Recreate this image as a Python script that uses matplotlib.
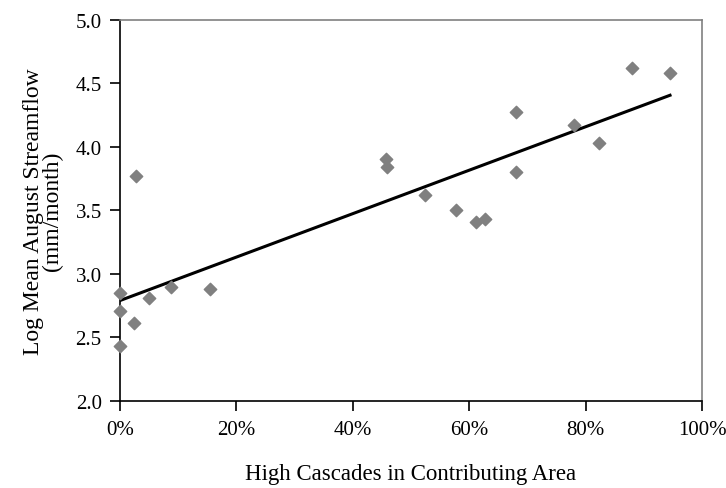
import numpy as np
import matplotlib

matplotlib.use("Agg")
import matplotlib.pyplot as plt
from matplotlib.ticker import PercentFormatter

plt.rcParams["font.family"] = ["Liberation Serif", "DejaVu Serif"]

# fraction of High Cascades in contributing area
high_cascades = [0.0, 0.0, 0.0, 0.025, 0.028, 0.05, 0.088, 0.155, 0.457, 0.459,
                 0.525, 0.578, 0.612, 0.628, 0.68, 0.68, 0.78, 0.823, 0.88, 0.945]
# log mean August streamflow (mm/month)
log_flow = [2.85, 2.71, 2.43, 2.61, 3.77, 2.81, 2.90, 2.88, 3.90, 3.84,
            3.62, 3.50, 3.41, 3.43, 4.27, 3.80, 4.17, 4.03, 4.62, 4.58]

x = np.array(high_cascades)
y = np.array(log_flow)
slope, intercept = np.polyfit(x, y, 1)
fit_x = np.array([x.min(), x.max()])

fig = plt.figure(figsize=(7.26, 4.89), dpi=100)
ax = fig.add_axes([0.165, 0.178, 0.802, 0.78])

ax.plot(fit_x, slope * fit_x + intercept, color="black", linewidth=2.2, zorder=2)
ax.scatter(x, y, marker="D", s=40, color="#808080", zorder=3, clip_on=False)

ax.set_xlim(0, 1)
ax.set_ylim(2.0, 5.0)
ax.set_xticks(np.arange(0, 1.01, 0.2))
ax.set_yticks(np.arange(2.0, 5.01, 0.5))
ax.xaxis.set_major_formatter(PercentFormatter(1.0, decimals=0))
ax.yaxis.set_major_formatter(plt.FormatStrFormatter("%.1f"))

for side in ["top", "right"]:
    ax.spines[side].set_color("#808080")
    ax.spines[side].set_linewidth(1.2)
for side in ["left", "bottom"]:
    ax.spines[side].set_linewidth(1.2)

ax.tick_params(axis="both", direction="out", length=7, width=1.2, labelsize=15)
ax.tick_params(axis="x", pad=7)
ax.tick_params(axis="y", pad=6)

ax.set_xlabel("High Cascades in Contributing Area", fontsize=16.5, labelpad=17)
ax.set_ylabel("Log Mean August Streamflow\n(mm/month)", fontsize=17,
              labelpad=9, linespacing=0.85)

fig.savefig("out.png", dpi=100)
plt.close()
